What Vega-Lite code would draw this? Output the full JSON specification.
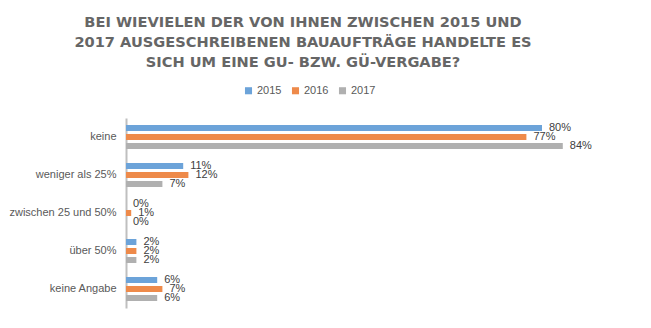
{
  "$schema": "https://vega.github.io/schema/vega-lite/v6.json",
  "width": 520,
  "height": 190,
  "autosize": {"type": "none"},
  "padding": {"left": 126, "top": 118, "right": 5, "bottom": 20},
  "background": "white",
  "title": {
    "text": ["BEI WIEVIELEN DER VON IHNEN ZWISCHEN 2015 UND", "2017 AUSGESCHREIBENEN BAUAUFTRÄGE HANDELTE ES", "SICH UM EINE GU- BZW. GÜ-VERGABE?"],
    "anchor": "middle",
    "dx": -83,
    "offset": 15,
    "font": "DejaVu Sans",
    "fontSize": 14.6,
    "fontWeight": "bold",
    "color": "#666666",
    "lineHeight": 20
  },
  "data": {
    "values": [
      {"kategorie": "keine", "jahr": "2015", "wert": 0.80},
      {"kategorie": "keine", "jahr": "2016", "wert": 0.77},
      {"kategorie": "keine", "jahr": "2017", "wert": 0.84},
      {"kategorie": "weniger als 25%", "jahr": "2015", "wert": 0.11},
      {"kategorie": "weniger als 25%", "jahr": "2016", "wert": 0.12},
      {"kategorie": "weniger als 25%", "jahr": "2017", "wert": 0.07},
      {"kategorie": "zwischen 25 und 50%", "jahr": "2015", "wert": 0.0},
      {"kategorie": "zwischen 25 und 50%", "jahr": "2016", "wert": 0.01},
      {"kategorie": "zwischen 25 und 50%", "jahr": "2017", "wert": 0.0},
      {"kategorie": "über 50%", "jahr": "2015", "wert": 0.02},
      {"kategorie": "über 50%", "jahr": "2016", "wert": 0.02},
      {"kategorie": "über 50%", "jahr": "2017", "wert": 0.02},
      {"kategorie": "keine Angabe", "jahr": "2015", "wert": 0.06},
      {"kategorie": "keine Angabe", "jahr": "2016", "wert": 0.07},
      {"kategorie": "keine Angabe", "jahr": "2017", "wert": 0.06}
    ]
  },
  "encoding": {
    "y": {
      "field": "kategorie",
      "type": "nominal",
      "sort": ["keine", "weniger als 25%", "zwischen 25 und 50%", "über 50%", "keine Angabe"],
      "scale": {"paddingInner": 0.29, "paddingOuter": 0.145},
      "axis": {
        "title": null,
        "ticks": false,
        "domainColor": "#bfbfbf",
        "domainWidth": 2,
        "labelFont": "Liberation Sans",
        "labelFontSize": 11,
        "labelColor": "#595959",
        "labelPadding": 10
      }
    },
    "yOffset": {
      "field": "jahr",
      "type": "nominal",
      "sort": ["2015", "2016", "2017"],
      "scale": {"paddingInner": 0.33, "paddingOuter": 0.165}
    },
    "x": {
      "field": "wert",
      "type": "quantitative",
      "scale": {"domain": [0, 1]},
      "axis": null
    }
  },
  "layer": [
    {
      "mark": {"type": "bar"},
      "encoding": {
        "color": {
          "field": "jahr",
          "type": "nominal",
          "scale": {"domain": ["2015", "2016", "2017"], "range": ["#6CA3D9", "#EE8A4A", "#B0B0B0"]},
          "legend": {
            "title": null,
            "orient": "none",
            "direction": "horizontal",
            "legendX": 117,
            "legendY": -33,
            "symbolType": "square",
            "symbolSize": 50,
            "labelFont": "Liberation Sans",
            "labelFontSize": 11,
            "labelColor": "#595959",
            "columnPadding": 8,
            "labelOffset": 3
          }
        }
      }
    },
    {
      "mark": {"type": "text", "align": "left", "dx": 7, "font": "Liberation Sans", "fontSize": 11, "color": "#404040"},
      "encoding": {
        "text": {"field": "wert", "type": "quantitative", "format": ".0%"}
      }
    }
  ],
  "config": {"view": {"stroke": null}}
}
